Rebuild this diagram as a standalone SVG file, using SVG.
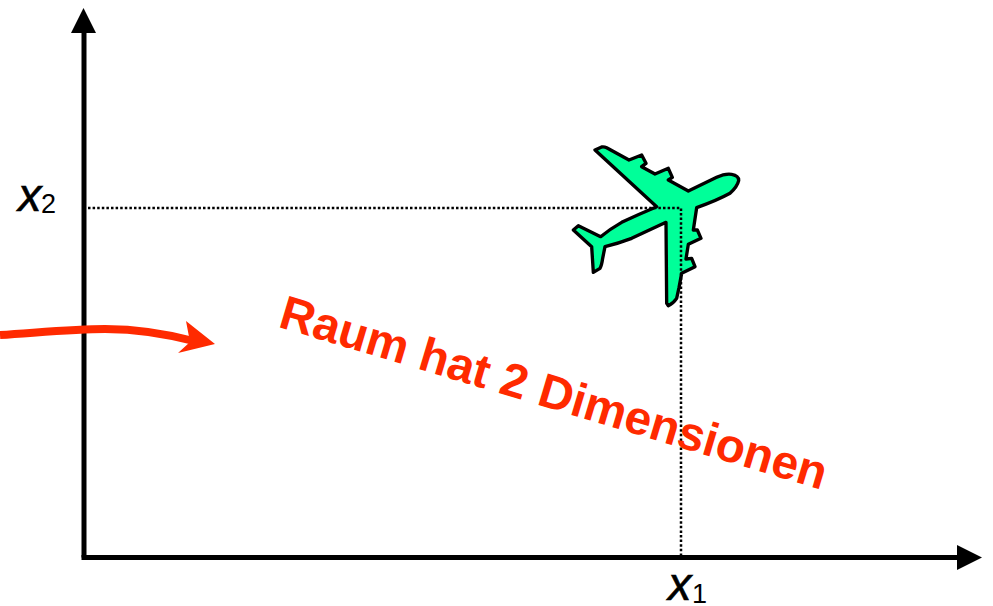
<svg xmlns="http://www.w3.org/2000/svg" width="993" height="606" viewBox="0 0 993 606">
<style>
.axis{fill:none;stroke:#000;stroke-width:5}
.head{fill:#000}
.dot{fill:none;stroke:#000;stroke-width:2.500;stroke-dasharray:2.500 2.100}
.lab{font-family:"Liberation Sans",Arial,sans-serif;fill:#000}
.it{font-style:italic;font-size:47px;stroke:#000;stroke-width:.6}
.sub{font-size:27px}
</style>
<rect width="993" height="606" fill="#fff"/>
<g id="airplane"><path transform="translate(560 135) scale(.33333)" fill="#00ff99" stroke="#000" stroke-width="10" stroke-linejoin="round" d="M105 45L125 36Q133 35 140 38L207 75L245 60L258 85L245 95L285 117L325 100L337 127L325 135L385 168L470 127Q495 115 515 118Q537 122 536 137Q532 155 510 175Q470 197 410 218L400 285L412 285L423 310L385 328L378 372L395 370L405 395L365 415L357 458L350 490Q340 505 325 512L320 505L318 262L215 310Q175 325 135 335L128 370Q125 392 120 400L100 412L95 335L40 285L55 272L122 305Q150 282 185 262Q235 238 290 215Z"/></g>
<g id="connectors">
<path class="axis" d="M84 557.500V30"/>
<path class="head" d="M83.500 8L96 33H71Z"/>
<path class="axis" d="M81.500 557.500H960"/>
<path class="head" d="M982 557.500L957 545V570Z"/>
<path class="dot" d="M88 208H681V555"/>
<path fill="none" stroke="#ff2a00" stroke-width="8" d="M0 335C45 332 75 329 105 329C140 329 168 334 198 342"/>
<path fill="#ff2a00" d="M215 344L178 353L190 342L186 321Z"/>
</g>
<g id="label-x2"><text class="lab it" x="18" y="211">x</text><text class="lab sub" x="41" y="213">2</text></g>
<g id="label-x1"><text class="lab it" x="668" y="600">x</text><text class="lab sub" x="692" y="603">1</text></g>
<g id="label-space"><text transform="translate(277 326.500) rotate(16.700)" font-family="'Liberation Sans',Arial,sans-serif" font-weight="700" font-size="47.600" fill="#ff2a00">Raum hat 2 Dimensionen</text></g>
</svg>
